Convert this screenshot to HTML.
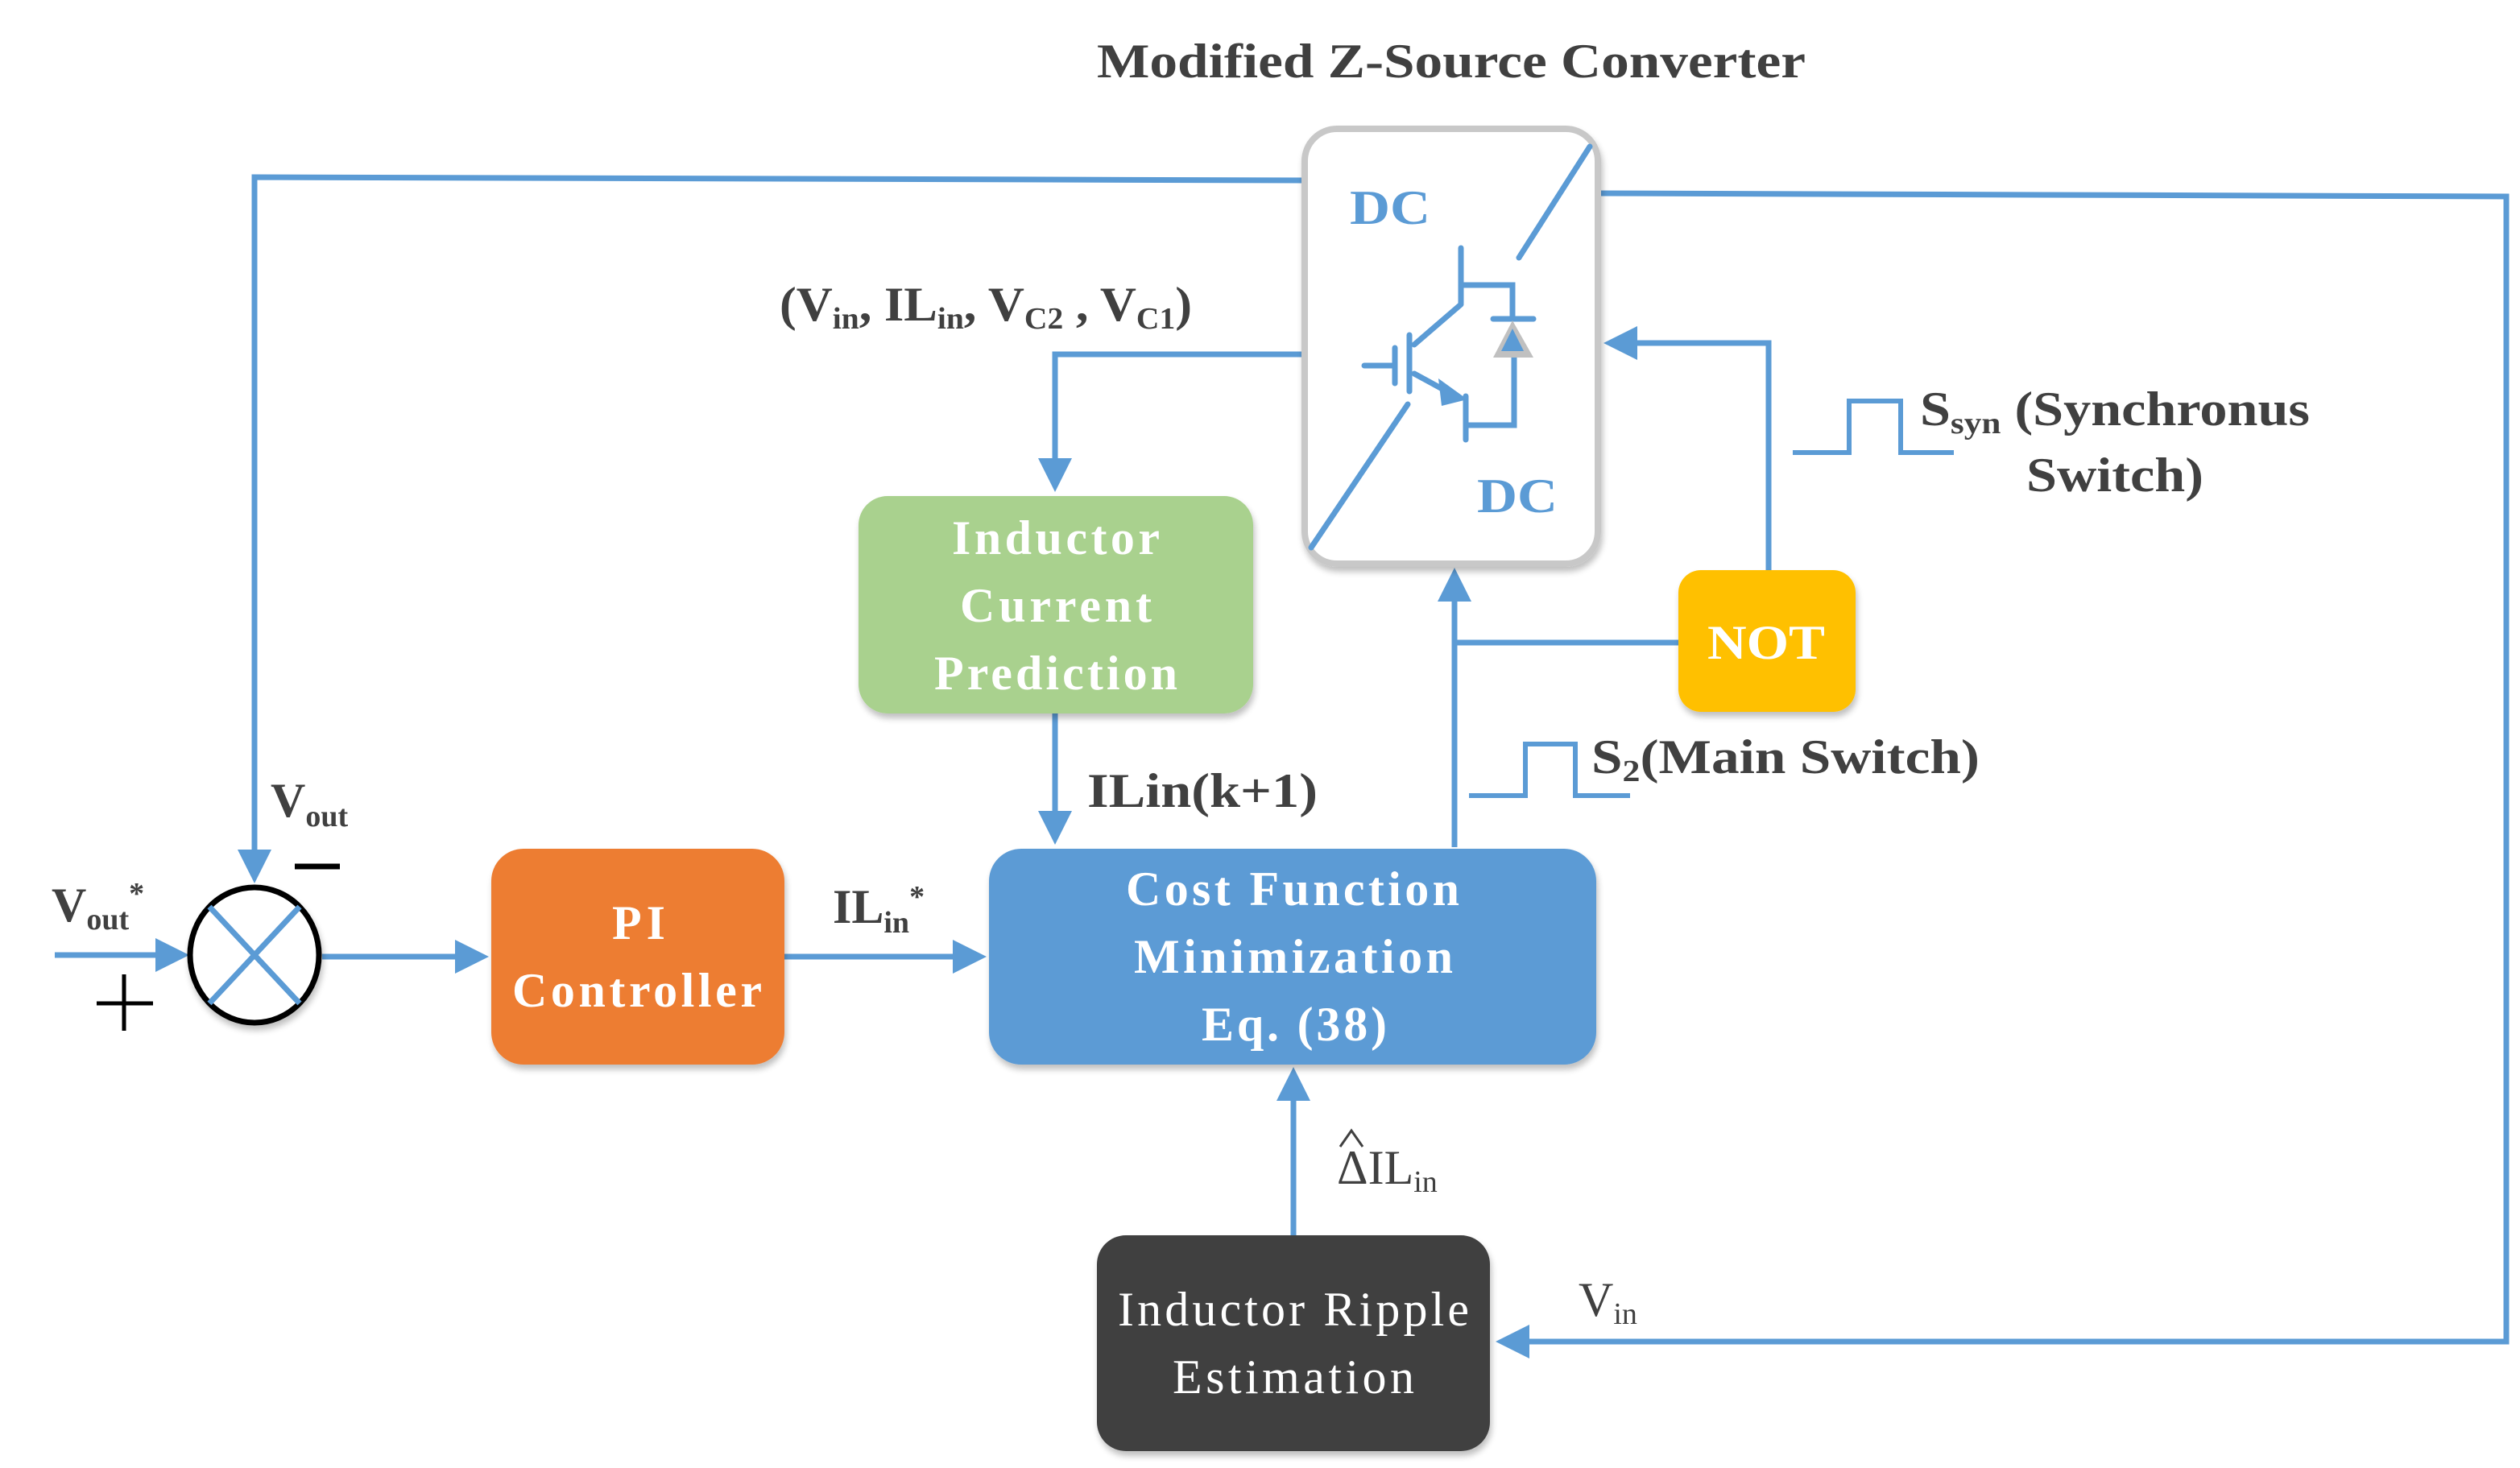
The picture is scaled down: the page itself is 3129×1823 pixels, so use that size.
<!DOCTYPE html>
<html><head><meta charset="utf-8"><style>
html,body{margin:0;padding:0;background:#fff;}
svg{display:block;}
</style></head><body>
<svg width="3129" height="1823" viewBox="0 0 1564.5 911.5" xmlns="http://www.w3.org/2000/svg" font-family="'Liberation Serif', serif">
<defs>
<marker id="ar" markerWidth="6" markerHeight="6" refX="5" refY="3" orient="auto" markerUnits="strokeWidth"><path d="M0,0 L6,3 L0,6 z" fill="#5b9bd5"/></marker>
<filter id="sh" x="-20%" y="-20%" width="140%" height="140%"><feGaussianBlur in="SourceAlpha" stdDeviation="2"/><feOffset dx="1" dy="3"/><feComponentTransfer><feFuncA type="linear" slope="0.25"/></feComponentTransfer><feMerge><feMergeNode/><feMergeNode in="SourceGraphic"/></feMerge></filter>
</defs>
<g fill="none" stroke="#5b9bd5" stroke-width="3.5">
<polyline points="810,112 158,110 158,545" marker-end="url(#ar)"/>
<polyline points="992,120 1556,122 1556,833 932,833" marker-end="url(#ar)"/>
<polyline points="810,220 655,220 655,302" marker-end="url(#ar)"/>
<polyline points="1098,354 1098,213 999,213" marker-end="url(#ar)"/>
<line x1="1042" y1="399" x2="903" y2="399"/>
<line x1="903" y1="526" x2="903" y2="356" marker-end="url(#ar)"/>
<line x1="655" y1="443" x2="655" y2="521" marker-end="url(#ar)"/>
<line x1="34" y1="593" x2="114" y2="593" marker-end="url(#ar)"/>
<line x1="200" y1="594" x2="300" y2="594" marker-end="url(#ar)"/>
<line x1="487" y1="594" x2="609" y2="594" marker-end="url(#ar)"/>
<line x1="803" y1="767" x2="803" y2="666" marker-end="url(#ar)"/>
<polyline points="1113,281 1148,281 1148,249 1180,249 1180,281 1213,281" stroke-width="3"/>
<polyline points="912,494 947,494 947,462 978,462 978,494 1012,494" stroke-width="3"/>
</g>
<rect x="810" y="80" width="182" height="270" rx="20" fill="#fff" stroke="#c8c8c8" stroke-width="4" filter="url(#sh)"/>
<g stroke="#5b9bd5" stroke-width="3.5" fill="none" stroke-linecap="round">
<line x1="814" y1="340" x2="874" y2="251"/>
<line x1="943" y1="160" x2="987" y2="91"/>
<line x1="907" y1="154" x2="907" y2="188"/>
<polyline points="907,177 939,177 939,198"/>
<line x1="927" y1="198" x2="952" y2="198"/>
<polyline points="940,222 940,264 910,264"/>
<line x1="910" y1="246" x2="910" y2="273"/>
<line x1="875" y1="208" x2="875" y2="243"/>
<line x1="878" y1="214" x2="907" y2="189"/>
<line x1="878" y1="232" x2="900" y2="244"/>
<line x1="866" y1="216" x2="866" y2="238"/>
<line x1="847" y1="227" x2="866" y2="227"/>
</g>
<path d="M893,235 L911,248 L895,252 z" fill="#5b9bd5"/>
<path d="M939,199 L952,222 L927,222 z" fill="#c0c0c0"/>
<path d="M939,204 L946,218 L932,218 z" fill="#5b9bd5"/>
<text x="838" y="139" font-size="30" font-weight="bold" fill="#5b9bd5" textLength="50" lengthAdjust="spacingAndGlyphs">DC</text>
<text x="917" y="318" font-size="30" font-weight="bold" fill="#5b9bd5" textLength="50" lengthAdjust="spacingAndGlyphs">DC</text>
<text x="681" y="48" font-size="30" font-weight="bold" fill="#404040" textLength="440" lengthAdjust="spacingAndGlyphs">Modified Z-Source Converter</text>
<rect x="533" y="308" width="245" height="135" rx="18" fill="#a9d18e" filter="url(#sh)"/>
<g font-size="30" font-weight="bold" fill="#fff" lengthAdjust="spacingAndGlyphs">
<text x="591" y="344" textLength="129">Inductor</text><text x="596" y="386" textLength="119">Current</text><text x="580" y="428" textLength="151">Prediction</text>
</g>
<rect x="1042" y="354" width="110" height="88" rx="14" fill="#ffc000" filter="url(#sh)"/>
<text x="1060" y="409" font-size="30" font-weight="bold" fill="#fff" textLength="73" lengthAdjust="spacingAndGlyphs">NOT</text>
<rect x="614" y="527" width="377" height="134" rx="20" fill="#5b9bd5" filter="url(#sh)"/>
<g font-size="30" font-weight="bold" fill="#fff" lengthAdjust="spacingAndGlyphs">
<text x="699" y="562" textLength="207">Cost Function</text><text x="704" y="604" textLength="198">Minimization</text><text x="746" y="646" textLength="115">Eq. (38)</text>
</g>
<rect x="305" y="527" width="182" height="134" rx="20" fill="#ed7d31" filter="url(#sh)"/>
<g font-size="30" font-weight="bold" fill="#fff" lengthAdjust="spacingAndGlyphs">
<text x="380" y="583" textLength="33">PI</text><text x="318" y="625" textLength="155">Controller</text>
</g>
<rect x="681" y="767" width="244" height="134" rx="18" fill="#404040" filter="url(#sh)"/>
<g font-size="30" fill="#fff" lengthAdjust="spacingAndGlyphs">
<text x="694" y="823" textLength="218">Inductor Ripple</text><text x="728" y="865" textLength="150">Estimation</text>
</g>
<ellipse cx="158" cy="593" rx="40" ry="42" fill="#fff" stroke="#000" stroke-width="3.5" filter="url(#sh)"/>
<g stroke="#5b9bd5" stroke-width="3.5"><line x1="130" y1="563" x2="186" y2="623"/><line x1="186" y1="563" x2="130" y2="623"/></g>
<g stroke="#000" stroke-width="2.5"><line x1="60" y1="623" x2="95" y2="623"/><line x1="77" y1="605" x2="77" y2="640"/></g>
<line x1="183" y1="538" x2="211" y2="538" stroke="#000" stroke-width="3.5"/>
<g fill="#404040" font-size="30" font-weight="bold">
<text x="32" y="572">V<tspan font-size="19" dy="5">out</tspan><tspan font-size="19" dy="-16">*</tspan></text>
<text x="168" y="507">V<tspan font-size="19" dy="6">out</tspan></text>
<text x="517" y="573">IL<tspan font-size="19" dy="6">in</tspan><tspan font-size="19" dy="-16">*</tspan></text>
<text x="675" y="501" textLength="143" lengthAdjust="spacingAndGlyphs">ILin(k+1)</text>
<text x="484" y="199" textLength="256" lengthAdjust="spacingAndGlyphs">(V<tspan font-size="19" dy="5">in</tspan><tspan dy="-5">, IL</tspan><tspan font-size="19" dy="5">in</tspan><tspan dy="-5">, V</tspan><tspan font-size="19" dy="5">C2</tspan><tspan dy="-5"> , V</tspan><tspan font-size="19" dy="5">C1</tspan><tspan dy="-5">)</tspan></text>
<text x="1192" y="264" textLength="242" lengthAdjust="spacingAndGlyphs">S<tspan font-size="19" dy="5">syn</tspan><tspan dy="-5"> (Synchronus</tspan></text>
<text x="1258" y="305" textLength="110" lengthAdjust="spacingAndGlyphs">Switch)</text>
<text x="988" y="480" textLength="241" lengthAdjust="spacingAndGlyphs">S<tspan font-size="19" dy="5">2</tspan><tspan dy="-5">(Main Switch)</tspan></text>
</g>
<g fill="#404040" font-size="30">
<text x="830" y="735">ΔIL<tspan font-size="19" dy="5">in</tspan></text>
<path d="M832,712 L839,702 L846,712" fill="none" stroke="#404040" stroke-width="1.5"/>
<text x="980" y="817">V<tspan font-size="19" dy="5">in</tspan></text>
</g>
</svg>
</body></html>
